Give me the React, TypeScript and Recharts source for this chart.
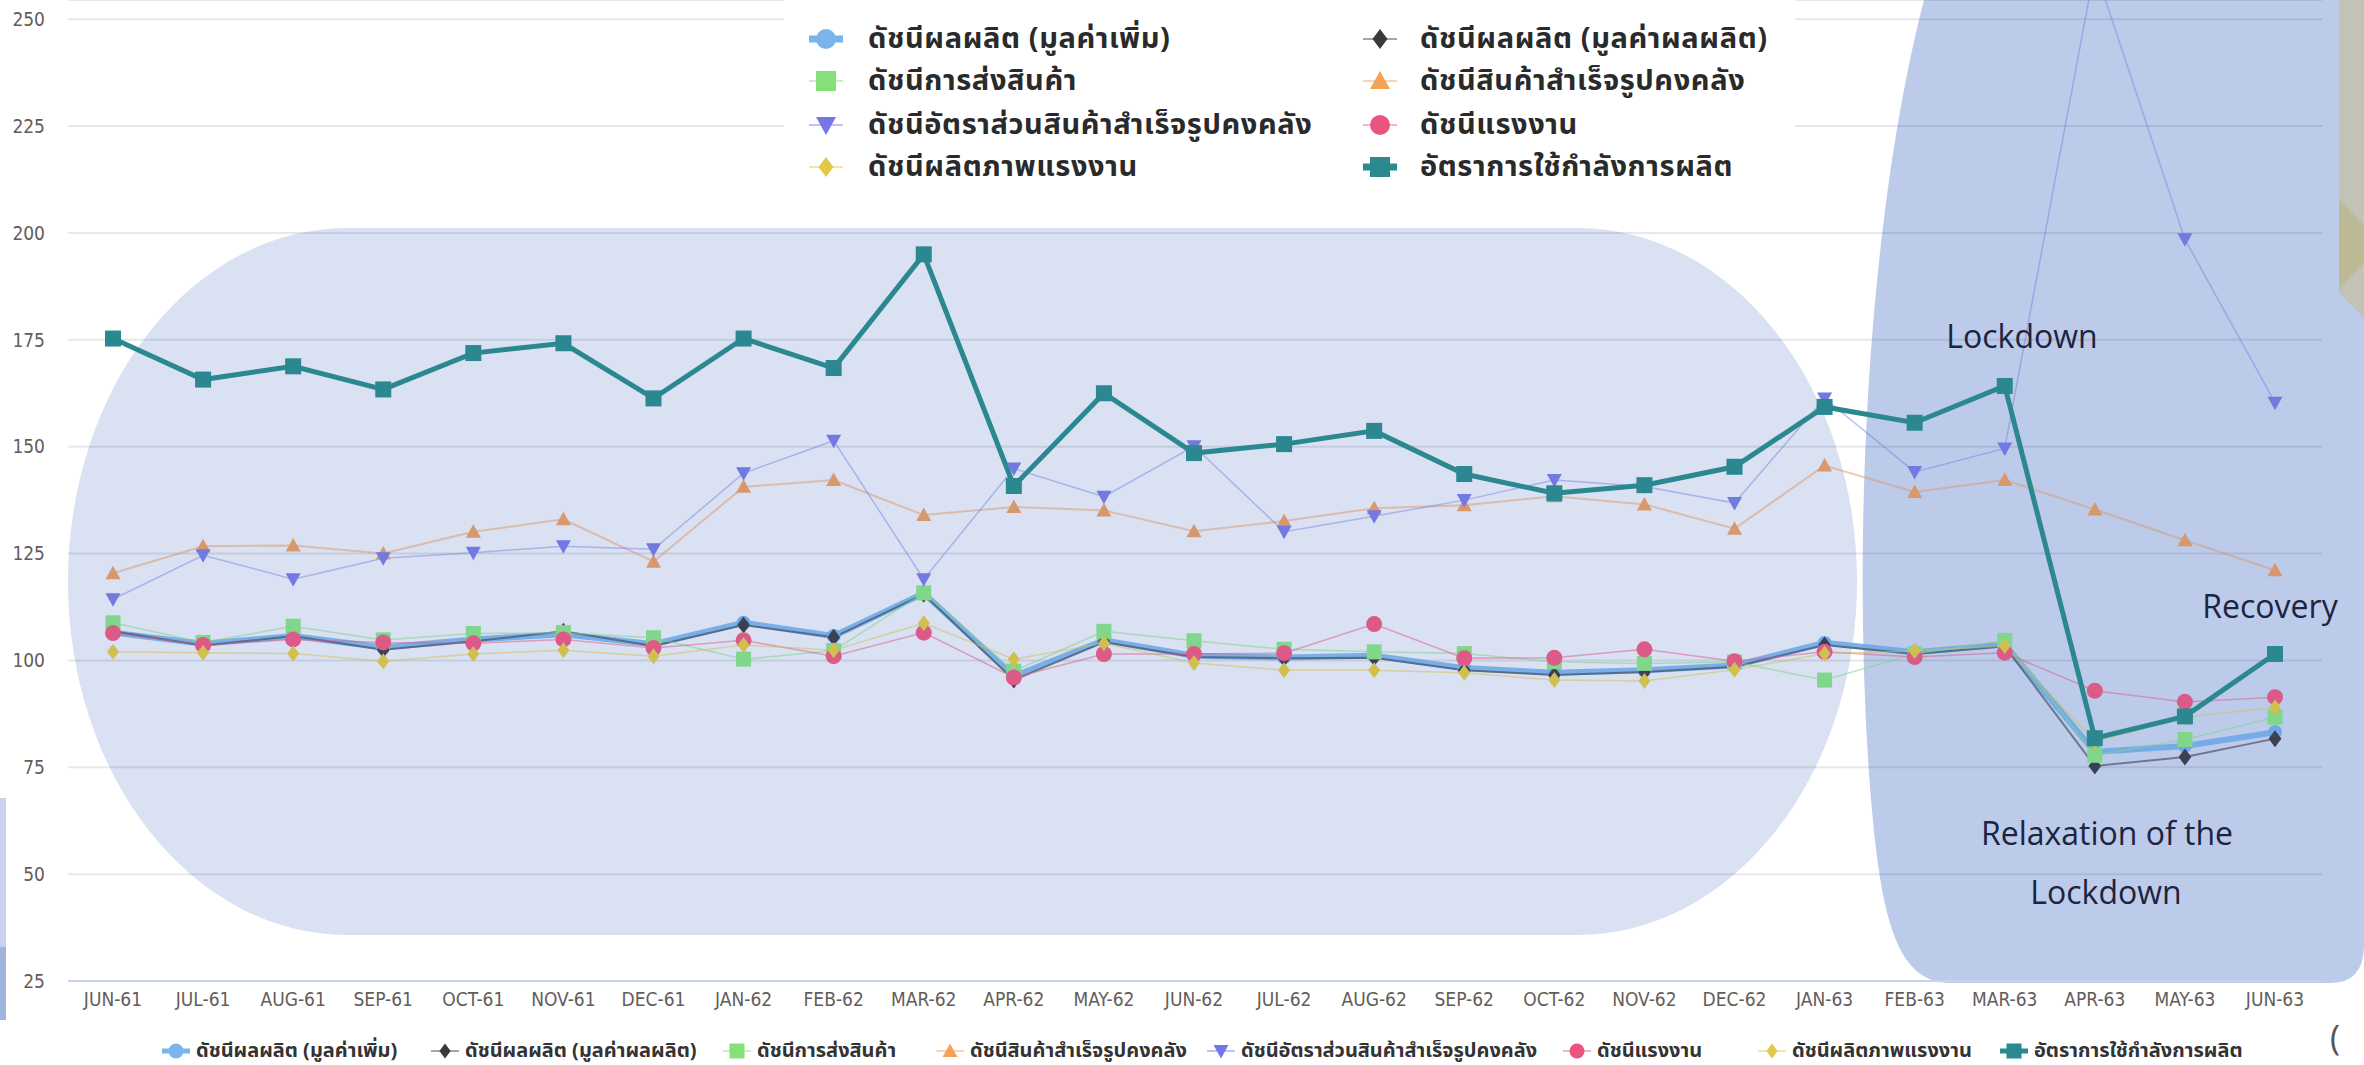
import { LineChart, Line, XAxis, YAxis, CartesianGrid } from 'recharts';

const months = [
  'JUN-61', 'JUL-61', 'AUG-61', 'SEP-61', 'OCT-61', 'NOV-61', 'DEC-61', 'JAN-62', 'FEB-62',
  'MAR-62', 'APR-62', 'MAY-62', 'JUN-62', 'JUL-62', 'AUG-62', 'SEP-62', 'OCT-62', 'NOV-62',
  'DEC-62', 'JAN-63', 'FEB-63', 'MAR-63', 'APR-63', 'MAY-63', 'JUN-63',
];

const yTicks = [25, 50, 75, 100, 125, 150, 175, 200, 225, 250];

// ดัชนีผลผลิต (มูลค่าเพิ่ม)
const valueAdded = [106.5, 103.9, 105.7, 103.0, 104.9, 106.1, 103.8, 108.8, 105.7, 115.7, 96.3, 104.7, 101.1, 100.7, 101.1, 98.2, 97.1, 97.7, 98.8, 104.1, 101.9, 103.7, 78.6, 80.0, 83.2];
// ดัชนีผลผลิต (มูลค่าผลผลิต)
const outputValue = [106.8, 103.5, 105.7, 102.5, 104.5, 106.8, 103.4, 108.3, 105.4, 115.5, 95.4, 104.3, 100.8, 100.5, 100.6, 97.7, 96.6, 97.3, 98.5, 103.6, 101.5, 103.3, 75.3, 77.4, 81.7];
// ดัชนีการส่งสินค้า
const shipments = [108.8, 104.2, 108.0, 104.8, 106.3, 106.5, 105.3, 100.3, 102.3, 115.8, 97.5, 106.8, 104.6, 102.6, 102.0, 101.6, 99.7, 99.3, 99.6, 95.4, 101.5, 104.7, 77.8, 81.5, 86.7];
// ดัชนีสินค้าสำเร็จรูปคงคลัง
const inventory = [120.4, 126.7, 126.9, 125.0, 130.1, 133.0, 123.1, 140.6, 142.2, 134.0, 135.9, 135.1, 130.2, 132.6, 135.6, 136.3, 138.4, 136.5, 130.8, 145.6, 139.4, 142.2, 135.3, 128.1, 121.1];
// ดัชนีอัตราส่วนสินค้าสำเร็จรูปคงคลัง
const inventoryRatio = [114.3, 124.6, 119.0, 123.9, 125.2, 126.7, 126.0, 143.8, 151.4, 119.0, 144.9, 138.3, 150.1, 130.1, 133.7, 137.5, 142.2, 140.7, 136.8, 161.3, 144.1, 149.6, 262.0, 198.5, 160.3];
// ดัชนีแรงงาน
const labor = [106.4, 103.6, 104.9, 104.2, 104.0, 104.9, 102.9, 104.7, 101.0, 106.5, 96.0, 101.5, 101.5, 101.7, 108.5, 100.5, 100.6, 102.6, 99.8, 102.0, 100.8, 101.8, 92.9, 90.3, 91.4];
// ดัชนีผลิตภาพแรงงาน
const productivity = [102.0, 101.8, 101.6, 99.8, 101.5, 102.4, 101.0, 103.6, 102.4, 108.7, 100.3, 104.0, 99.4, 97.7, 97.7, 97.1, 95.4, 95.2, 97.8, 101.6, 102.2, 103.4, 81.0, 86.7, 89.0];
// อัตราการใช้กำลังการผลิต
const capacity = [175.3, 165.7, 168.8, 163.4, 171.9, 174.2, 161.3, 175.3, 168.4, 195.0, 140.8, 162.5, 148.5, 150.6, 153.7, 143.6, 139.1, 141.0, 145.3, 159.3, 155.6, 164.2, 81.8, 86.9, 101.5];

const rows = months.map((month, i) => ({
  month,
  valueAdded: valueAdded[i],
  outputValue: outputValue[i],
  shipments: shipments[i],
  inventory: inventory[i],
  inventoryRatio: inventoryRatio[i],
  labor: labor[i],
  productivity: productivity[i],
  capacity: capacity[i],
}));

type Shape = 'circle' | 'square' | 'diamond' | 'triangle' | 'triangleDown';

interface SeriesStyle {
  key: string;
  name: string;
  color: string;
  legendColor: string;
  width: number;
  opacity: number;
  shape: Shape;
  size: number;
}

const SERIES: SeriesStyle[] = [
  { key: 'valueAdded', name: 'ดัชนีผลผลิต (มูลค่าเพิ่ม)', color: '#6ea8e6', legendColor: '#7ab4ec', width: 6, opacity: 0.9, shape: 'circle', size: 14 },
  { key: 'outputValue', name: 'ดัชนีผลผลิต (มูลค่าผลผลิต)', color: '#3b4152', legendColor: '#3a3a3a', width: 2, opacity: 0.6, shape: 'diamond', size: 17 },
  { key: 'shipments', name: 'ดัชนีการส่งสินค้า', color: '#80d68a', legendColor: '#86e07a', width: 1.5, opacity: 0.55, shape: 'square', size: 15 },
  { key: 'inventory', name: 'ดัชนีสินค้าสำเร็จรูปคงคลัง', color: '#d9976c', legendColor: '#f4a15a', width: 2, opacity: 0.5, shape: 'triangle', size: 15 },
  { key: 'inventoryRatio', name: 'ดัชนีอัตราส่วนสินค้าสำเร็จรูปคงคลัง', color: '#7279e0', legendColor: '#7676e6', width: 1.5, opacity: 0.45, shape: 'triangleDown', size: 15 },
  { key: 'labor', name: 'ดัชนีแรงงาน', color: '#dc5a88', legendColor: '#ea5580', width: 1.5, opacity: 0.5, shape: 'circle', size: 16 },
  { key: 'productivity', name: 'ดัชนีผลิตภาพแรงงาน', color: '#cfc050', legendColor: '#e4c84a', width: 1.5, opacity: 0.5, shape: 'diamond', size: 16 },
  { key: 'capacity', name: 'อัตราการใช้กำลังการผลิต', color: '#2b8890', legendColor: '#2a8a8f', width: 5, opacity: 1, shape: 'square', size: 16 },
];

function marker(shape: Shape, cx: number, cy: number, s: number, fill: string, key?: string) {
  const h = s / 2;
  switch (shape) {
    case 'circle':
      return <circle key={key} cx={cx} cy={cy} r={h} fill={fill} />;
    case 'square':
      return <rect key={key} x={cx - h} y={cy - h} width={s} height={s} fill={fill} />;
    case 'diamond':
      return <polygon key={key} points={`${cx},${cy - h} ${cx + h * 0.75},${cy} ${cx},${cy + h} ${cx - h * 0.75},${cy}`} fill={fill} />;
    case 'triangle':
      return <polygon key={key} points={`${cx},${cy - h} ${cx + h},${cy + h * 0.8} ${cx - h},${cy + h * 0.8}`} fill={fill} />;
    default:
      return <polygon key={key} points={`${cx},${cy + h} ${cx + h},${cy - h * 0.8} ${cx - h},${cy - h * 0.8}`} fill={fill} />;
  }
}

function LegendIcon({ s, big }: { s: SeriesStyle; big?: boolean }) {
  const w = big ? 34 : 28;
  const sw = s.key === 'valueAdded' || s.key === 'capacity' ? (big ? 7 : 5) : 2;
  return (
    <svg width={w} height={24} style={{ display: 'block' }}>
      <line x1={0} y1={12} x2={w} y2={12} stroke={s.legendColor} strokeWidth={sw} strokeOpacity={sw > 2 ? 1 : 0.45} />
      {marker(s.shape, w / 2, 12, big ? 20 : 15, s.legendColor)}
    </svg>
  );
}

const THAI_FONT = '"Noto Sans Thai", "Noto Sans Thai UI", Tahoma, "DejaVu Sans", sans-serif';
const AXIS_FONT = '"Liberation Sans Narrow", "DejaVu Sans Condensed", "Open Sans", sans-serif';

// left edge of icon, gap to text
const TOP_LEGEND_POS = [
  { x: 809, y: 39, gap: 25 }, { x: 1363, y: 39, gap: 23 },
  { x: 809, y: 81, gap: 25 }, { x: 1363, y: 81, gap: 23 },
  { x: 809, y: 125, gap: 25 }, { x: 1363, y: 125, gap: 23 },
  { x: 809, y: 167, gap: 25 }, { x: 1363, y: 167, gap: 23 },
];
const BOTTOM_LEGEND_X = [162, 431, 723, 936, 1207, 1563, 1758, 2000];

export default function App() {
  return (
    <div style={{ position: 'absolute', left: 0, top: 0, width: 2364, height: 1065, background: '#fff', overflow: 'hidden' }}>
      {/* background slide shapes */}
      <svg width={2364} height={1065} style={{ position: 'absolute', left: 0, top: 0 }}>
        <rect x={68} y={228} width={1789} height={707} rx={279} ry={353} fill="#d9e1f2" />
        <path d="M1924,0 C1872,200 1852,500 1868,760 C1878,900 1890,983 1950,983 L2330,983 Q2364,983 2364,945 L2364,0 Z" fill="#bdcbea" />
        <rect x={0} y={798} width={6} height={150} fill="#c7d3ee" />
        <rect x={0} y={947} width={6} height={73} fill="#9fb4df" />
      </svg>

      <div style={{ position: 'absolute', left: 0, top: 0 }}>
        <LineChart width={2364} height={1065} data={rows} margin={{ top: 0, right: 42, left: 18, bottom: 44 }}>
          <CartesianGrid vertical={false} stroke="rgba(20,30,60,0.1)" strokeWidth={2} />
          <XAxis
            dataKey="month"
            interval={0}
            padding={{ left: 45, right: 47 }}
            height={40}
            tickSize={0}
            tickMargin={12}
            axisLine={{ stroke: '#c6d3ee', strokeWidth: 2 }}
            tick={{ fontSize: 19, fill: '#635d5a', fontFamily: AXIS_FONT }}
          />
          <YAxis
            domain={[25, 254.5]}
            ticks={yTicks}
            allowDataOverflow
            width={50}
            tickSize={0}
            tickMargin={23}
            axisLine={false}
            tick={{ fontSize: 19, fill: '#635d5a', fontFamily: AXIS_FONT }}
          />
          {SERIES.map((s) => (
            <Line
              key={s.key}
              type="linear"
              dataKey={s.key}
              name={s.name}
              stroke={s.color}
              strokeWidth={s.width}
              strokeOpacity={s.opacity}
              activeDot={false}
              isAnimationActive={false}
              dot={(p: any) => marker(s.shape, p.cx, p.cy, s.size, s.color, `${s.key}-${p.index}`)}
            />
          ))}
        </LineChart>
      </div>

      {/* annotations and slide edges */}
      <svg width={2364} height={1065} style={{ position: 'absolute', left: 0, top: 0 }}>
        <g fontFamily='"Open Sans", "Noto Sans", sans-serif' fontSize={32} fill="#1b2440" textAnchor="middle">
          <text x={2022} y={348}>Lockdown</text>
          <text x={2270} y={618}>Recovery</text>
          <text x={2107} y={845}>Relaxation of the</text>
          <text x={2106} y={904}>Lockdown</text>
        </g>
        <polygon points="2339,0 2364,0 2364,318 2339,293" fill="#c0c3b5" />
        <polygon points="2339,200 2364,225 2364,263 2339,288" fill="#bdb994" />
        <text x={2330} y={1050} fontSize={34} fill="#555" fontFamily='"Open Sans", sans-serif'>(</text>
      </svg>

      {/* top legend box */}
      <div style={{ position: 'absolute', left: 784, top: 0, width: 1011, height: 212, background: '#fff' }}>
        {SERIES.map((s, i) => (
          <div
            key={s.key}
            style={{
              position: 'absolute',
              left: TOP_LEGEND_POS[i].x - 784,
              top: TOP_LEGEND_POS[i].y - 16,
              height: 32,
              display: 'flex',
              alignItems: 'center',
              gap: TOP_LEGEND_POS[i].gap,
              whiteSpace: 'nowrap',
              fontFamily: THAI_FONT,
              fontWeight: 700,
              fontSize: 29,
              letterSpacing: 0.6,
              lineHeight: 1,
              color: '#2a2a2a',
            }}
          >
            <LegendIcon s={s} big />
            <span style={{ lineHeight: 1 }}>{s.name}</span>
          </div>
        ))}
      </div>

      {/* bottom legend */}
      {SERIES.map((s, i) => (
        <div
          key={s.key}
          style={{
            position: 'absolute',
            left: BOTTOM_LEGEND_X[i],
            top: 1051 - 14,
            height: 28,
            display: 'flex',
            alignItems: 'center',
            gap: 6,
            whiteSpace: 'nowrap',
            fontFamily: THAI_FONT,
            fontWeight: 700,
            fontSize: 20,
            lineHeight: 1,
            color: '#333',
          }}
        >
          <LegendIcon s={s} />
          <span style={{ lineHeight: 1 }}>{s.name}</span>
        </div>
      ))}
    </div>
  );
}
